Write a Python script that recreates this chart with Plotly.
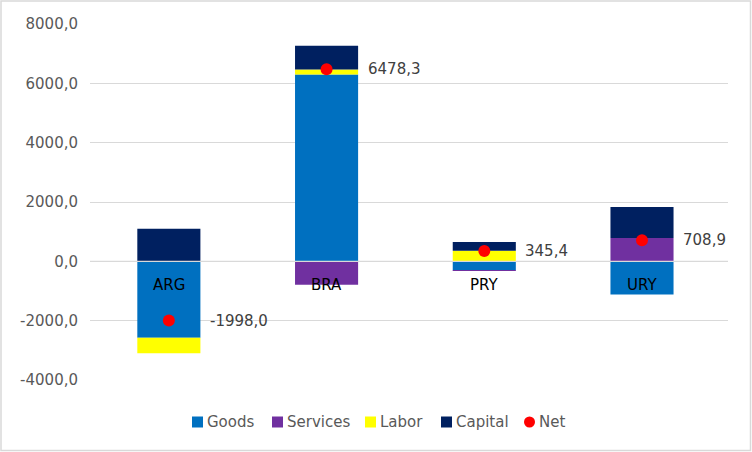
import plotly.graph_objects as go

# --- data -----------------------------------------------------------------
paises = ["ARG", "BRA", "PRY", "URY"]
goods = [-2580.0, 6300.0, -300.0, -1120.0]
services = [2.0, -790.0, -10.0, 790.0]
labor = [-520.0, 165.0, 360.0, 0.0]
capital = [1100.0, 803.3, 295.4, 1038.9]
net = [-1998.0, 6478.3, 345.4, 708.9]
ticks_y = [-4000, -2000, 0, 2000, 4000, 6000, 8000]

FONT = "DejaVu Sans"
GRIS = "#d9d9d9"
W, H = 752, 452
ML, MR, MT, MB = 90, 24, 24, 72
PW, PH = W - ML - MR, H - MT - MB


def px_x(px):
    # pixel -> coordenada paper (horizontal)
    return (px - ML) / PW


def px_y(py):
    return (H - MB - py) / PH


def fmt(v, dec=1):
    return f"{v:.{dec}f}".replace(".", ",")


series = [("Goods", goods, "#0070C0"),
          ("Services", services, "#7030A0"),
          ("Labor", labor, "#FFFF00"),
          ("Capital", capital, "#002060")]

fig = go.Figure()

for nombre, valores, color in series:
    fig.add_trace(go.Bar(
        x=paises, y=valores, name=nombre,
        marker=dict(color=color, line=dict(width=0)),
    ))

fig.add_trace(go.Scatter(
    x=paises, y=net, name="Net", mode="markers",
    marker=dict(color="#FF0000", size=12, symbol="circle"),
))

# etiquetas de categoria (sobre el eje en cero, como en Excel)
for p in paises:
    fig.add_annotation(x=p, y=0, text=p, showarrow=False,
                       yanchor="middle", yshift=-24,
                       font=dict(family=FONT, size=15, color="#000000"))

# etiquetas del neto a la derecha de cada barra
for p, v in zip(paises, net):
    fig.add_annotation(x=p, y=v, text=fmt(v), showarrow=False,
                       xanchor="left", xshift=39,
                       font=dict(family=FONT, size=15, color="#404040"))

# linea del eje horizontal en cero, encima de las barras
fig.add_shape(type="line", xref="paper", yref="y", x0=0, x1=1, y0=0, y1=0,
              line=dict(color=GRIS, width=1.2), layer="above")

# borde del area del grafico
fig.add_shape(type="rect", xref="paper", yref="paper",
              x0=px_x(1), x1=px_x(W - 1.5), y0=px_y(H - 1.5), y1=px_y(1),
              line=dict(color=GRIS, width=1.5), layer="below")

# leyenda al estilo Excel (simbolo pegado al texto)
leyenda_x = [192, 272, 365, 441, 524]   # borde izquierdo de cada simbolo
ley_y = 422
items = [(n, c) for n, _, c in series] + [("Net", "#FF0000")]
for (nombre, color), x0 in zip(items, leyenda_x):
    fig.add_shape(type="circle" if nombre == "Net" else "rect",
                  xref="paper", yref="paper",
                  x0=px_x(x0), x1=px_x(x0 + 11),
                  y0=px_y(ley_y + 5.5), y1=px_y(ley_y - 5.5),
                  fillcolor=color, line=dict(width=0))
    fig.add_annotation(xref="paper", yref="paper", x=px_x(x0 + 13),
                       y=px_y(ley_y), text=nombre, showarrow=False,
                       xanchor="left", yanchor="middle",
                       font=dict(family=FONT, size=15, color="#595959"))

fig.update_layout(
    width=W, height=H,
    barmode="relative", bargap=0.6,
    paper_bgcolor="white", plot_bgcolor="white",
    margin=dict(l=ML, r=MR, t=MT, b=MB),
    font=dict(family=FONT, size=15, color="#595959"),
    showlegend=False,
    xaxis=dict(showticklabels=False, showgrid=False, zeroline=False,
               showline=False),
    yaxis=dict(range=[-4000, 8000], tickvals=ticks_y,
               ticktext=[fmt(t) for t in ticks_y],
               showgrid=True, gridcolor=GRIS, gridwidth=1.2,
               zeroline=False, showline=False, ticks="",
               ticklabelstandoff=11,
               tickfont=dict(family=FONT, size=15, color="#595959")),
)

fig.write_html("out.html", config={"displayModeBar": False},
               post_script="document.body.style.margin='0';")
